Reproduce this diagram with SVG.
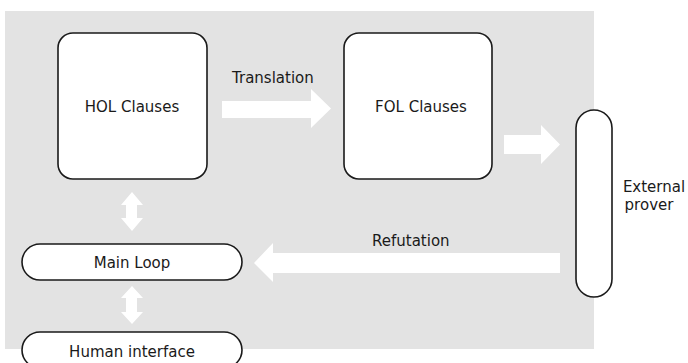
<svg xmlns="http://www.w3.org/2000/svg" width="688" height="363" viewBox="0 0 688 363">
<style>
.node{fill:#fff;stroke:#1a1a1a;stroke-width:1.6}
.lbl{font-family:"DejaVu Sans",sans-serif;font-size:15px;fill:#1a1a1a}
.mid{text-anchor:middle}
.arr{fill:#fff;stroke:none}
</style>
<rect x="5" y="11" width="589" height="338" fill="#e3e3e3"/>
<g id="connectors">
<polygon class="arr" points="222,101 311,101 311,89 331,108.5 311,128 311,118 222,118"/>
<polygon class="arr" points="504,135 541,135 541,125 560,144.5 541,164 541,154 504,154"/>
<polygon class="arr" points="560,253 273,253 273,243 254,263 273,282 273,273 560,273"/>
<polygon class="arr" points="132,192 143,205 137,205 137,218 143,218 132,231 121,218 126,218 126,205 121,205"/>
<polygon class="arr" points="132,286 143,298 137,298 137,312 143,312 132,324 121,312 126,312 126,298 121,298"/>
<text class="lbl" x="232" y="83">Translation</text>
<text class="lbl" x="372" y="246">Refutation</text>
</g>
<g id="hol">
<rect class="node" x="58" y="33" width="149" height="146" rx="15"/>
<text class="lbl mid" x="132" y="112">HOL Clauses</text>
</g>
<g id="fol">
<rect class="node" x="344" y="33" width="148" height="146" rx="15"/>
<text class="lbl mid" x="421" y="112">FOL Clauses</text>
</g>
<g id="prover">
<rect class="node" x="576" y="110" width="36" height="187" rx="18"/>
<text class="lbl mid" x="654" y="192">External</text>
<text class="lbl mid" x="649" y="210">prover</text>
</g>
<g id="mainloop">
<rect class="node" x="22" y="244" width="220" height="36" rx="18"/>
<text class="lbl mid" x="132" y="268">Main Loop</text>
</g>
<g id="human">
<rect class="node" x="22" y="332" width="220" height="36" rx="18"/>
<text class="lbl mid" x="132" y="357">Human interface</text>
</g>
</svg>
